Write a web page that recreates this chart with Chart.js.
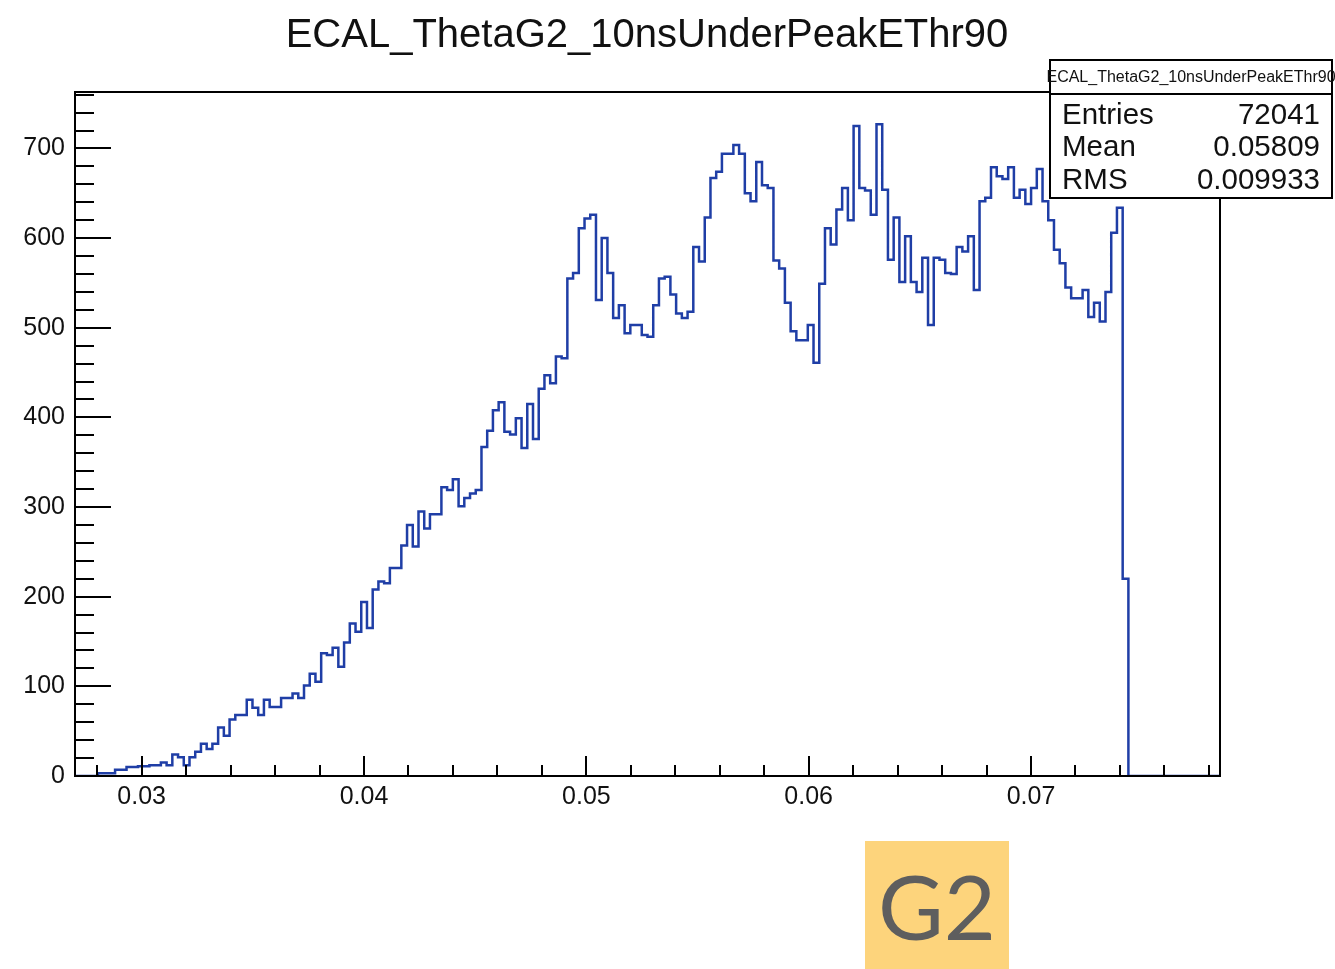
<!DOCTYPE html>
<html>
<head>
<meta charset="utf-8">
<script src="https://cdn.jsdelivr.net/npm/chart.js@4.4.1/dist/chart.umd.min.js"></script>
<style>
  html, body { margin: 0; padding: 0; background: #fff; }
  #wrap { position: relative; width: 1335px; height: 969px; }
  #c { position: absolute; left: 0; top: 0; }
  #tag {
    position: absolute; left: 865px; top: 841px; width: 144px; height: 128px;
    background: #fdd47c; color: #5e5e5e;
    font-family: Lato, "Open Sans", sans-serif; font-size: 90px;
    display: flex; align-items: center; justify-content: center; line-height: 1;
  }
</style>
</head>
<body>
<div id="wrap">
  <canvas id="c" width="1335" height="969"></canvas>
  <div id="tag">G2</div>
</div>
<script>
// ---- data ----
const chartTitle = "ECAL_ThetaG2_10nsUnderPeakEThr90";
const xMin = 0.027;
const xMax = 0.0785;
const binWidth = 0.0002575;
const counts = [
  0, 0, 0, 0, 0, 3, 3, 3, 7, 7,
  10, 10, 11, 11, 12, 12, 15, 12, 24, 21,
  12, 21, 27, 36, 30, 36, 54, 45, 63, 68,
  68, 85, 76, 68, 85, 77, 77, 87, 87, 92,
  87, 101, 114, 105, 137, 135, 143, 122, 149, 170,
  161, 194, 165, 208, 217, 215, 232, 232, 257, 280,
  256, 295, 276, 292, 292, 322, 319, 331, 301, 310,
  315, 319, 367, 385, 408, 417, 384, 381, 399, 366,
  415, 376, 432, 447, 438, 468, 466, 555, 561, 611,
  622, 626, 531, 600, 561, 511, 525, 494, 503, 503,
  492, 490, 525, 555, 557, 537, 516, 511, 518, 590,
  574, 623, 667, 674, 694, 694, 704, 694, 650, 641,
  685, 659, 656, 575, 566, 528, 496, 486, 486, 503,
  461, 549, 611, 593, 632, 656, 620, 725, 656, 653,
  626, 727, 654, 576, 623, 551, 602, 551, 540, 578,
  503, 578, 576, 561, 560, 590, 585, 602, 542, 641,
  645, 679, 669, 666, 679, 645, 654, 638, 656, 677,
  641, 620, 587, 572, 545, 533, 533, 542, 512, 528,
  507, 540, 606, 634, 220, 0, 0, 0, 0, 0,
  0, 0, 0, 0, 0, 0, 0, 0, 0, 0
];
const xTickValues = [0.03, 0.04, 0.05, 0.06, 0.07];
const yTickValues = [0, 100, 200, 300, 400, 500, 600, 700];
const yMax = 763;
const statsTitle = "ECAL_ThetaG2_10nsUnderPeakEThr90";
const statsLabels = ["Entries", "Mean", "RMS"];
const statsValues = ["72041", "0.05809", "0.009933"];

// ---- build ----
const points = counts.map((c, i) => ({ x: xMin + i * binWidth, y: c }));
points.push({ x: xMin + counts.length * binWidth, y: 0 });

const FONT = '"Liberation Sans", Arial, Helvetica, sans-serif';

const rootFrame = {
  id: 'rootFrame',
  afterDatasetsDraw(chart) {
    const { ctx, chartArea: ca, scales } = chart;
    const xs = scales.x, ys = scales.y;
    ctx.save();
    ctx.strokeStyle = '#000';
    ctx.lineWidth = 2;
    ctx.beginPath();
    const step = 0.002;
    for (let k = Math.ceil(xMin / step - 1e-9); k * step <= xMax + 1e-12; k++) {
      const px = Math.round(xs.getPixelForValue(k * step));
      const len = (k % 5 === 0) ? 20 : 11;
      ctx.moveTo(px, ca.bottom);
      ctx.lineTo(px, ca.bottom - len);
    }
    for (let v = 0; v <= yMax; v += 20) {
      const py = Math.round(ys.getPixelForValue(v));
      const len = (v % 100 === 0) ? 36 : 19;
      ctx.moveTo(ca.left, py);
      ctx.lineTo(ca.left + len, py);
    }
    ctx.stroke();
    ctx.strokeRect(ca.left, ca.top, ca.right - ca.left, ca.bottom - ca.top);
    ctx.restore();
  },
  afterDraw(chart) {
    const { ctx } = chart;
    ctx.save();
    // main title
    ctx.fillStyle = '#111';
    ctx.textAlign = 'center';
    ctx.textBaseline = 'middle';
    ctx.font = '40px ' + FONT;
    ctx.fillText(chartTitle, 647, 36);
    // stats box
    const bx = 1050, by = 60, bw = 282, bh = 138, sep = 94;
    ctx.fillStyle = '#fff';
    ctx.fillRect(bx, by, bw, bh);
    ctx.strokeStyle = '#000';
    ctx.lineWidth = 2;
    ctx.strokeRect(bx, by, bw, bh);
    ctx.beginPath();
    ctx.moveTo(bx, sep);
    ctx.lineTo(bx + bw, sep);
    ctx.stroke();
    ctx.fillStyle = '#111';
    ctx.textAlign = 'center';
    ctx.font = '16px ' + FONT;
    ctx.fillText(statsTitle, bx + bw / 2, 78);
    ctx.font = '29.5px ' + FONT;
    const rows = [116, 148, 181];
    statsLabels.forEach((lab, i) => {
      ctx.textAlign = 'left';
      ctx.fillText(lab, 1062, rows[i]);
      ctx.textAlign = 'right';
      ctx.fillText(statsValues[i], 1320, rows[i]);
    });
    ctx.restore();
  }
};

new Chart(document.getElementById('c'), {
  type: 'line',
  data: {
    datasets: [{
      data: points,
      stepped: 'after',
      borderColor: '#1f3ea6',
      borderWidth: 2.5,
      pointRadius: 0,
      fill: false,
      tension: 0
    }]
  },
  options: {
    responsive: false,
    animation: false,
    devicePixelRatio: 1,
    parsing: false,
    layout: { padding: { left: 0, right: 115, top: 92, bottom: 0 } },
    plugins: {
      legend: { display: false },
      tooltip: { enabled: false },
      title: { display: false }
    },
    scales: {
      x: {
        type: 'linear',
        min: xMin,
        max: xMax,
        afterBuildTicks(scale) { scale.ticks = xTickValues.map(v => ({ value: v })); },
        afterFit(scale) { scale.height = 193; },
        grid: { display: false, drawTicks: false },
        border: { display: false },
        ticks: {
          color: '#111',
          font: { family: FONT, size: 25 },
          padding: 6,
          maxRotation: 0,
          autoSkip: false,
          callback: v => Number(v).toFixed(2)
        }
      },
      y: {
        type: 'linear',
        min: 0,
        max: yMax,
        afterBuildTicks(scale) { scale.ticks = yTickValues.map(v => ({ value: v })); },
        afterFit(scale) { scale.width = 75; },
        grid: { display: false, drawTicks: false },
        border: { display: false },
        ticks: {
          color: '#111',
          font: { family: FONT, size: 25 },
          padding: 10,
          autoSkip: false,
          callback: v => String(v)
        }
      }
    }
  },
  plugins: [rootFrame]
});
</script>
</body>
</html>
